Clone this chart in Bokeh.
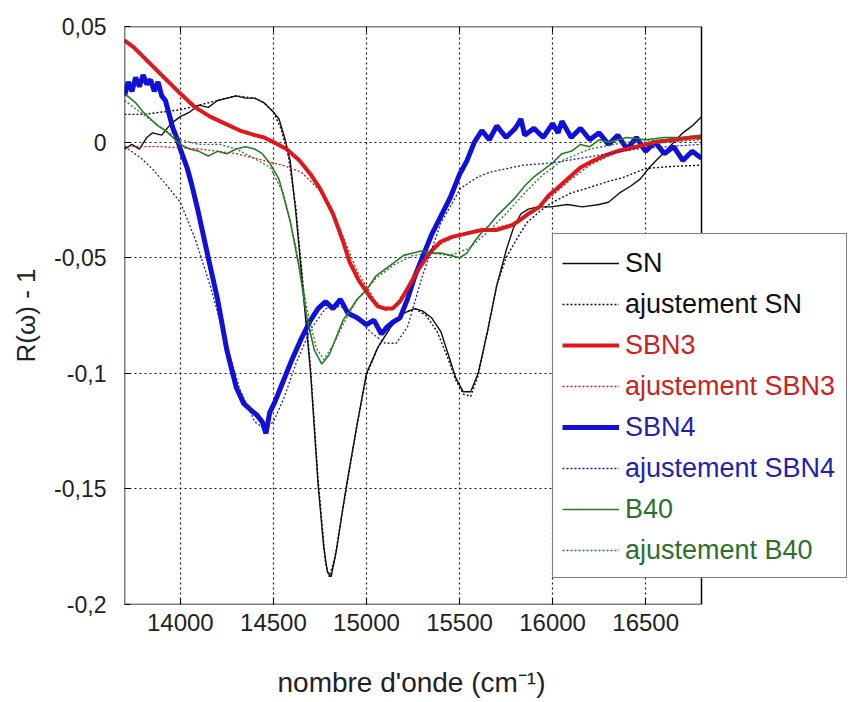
from bokeh.plotting import figure
from bokeh.models import Legend, LegendItem, FixedTicker, LinearAxis, Range1d, BoxAnnotation, Title
from bokeh.embed import file_html
from bokeh.resources import INLINE

# ---------------- data ----------------
x_ticks = [14000, 14500, 15000, 15500, 16000, 16500]
x_tick_labels = ["14000", "14500", "15000", "15500", "16000", "16500"]
y_ticks = [0.05, 0.0, -0.05, -0.1, -0.15, -0.2]
y_tick_labels = ["0,05", "0", "-0,05", "-0,1", "-0,15", "-0,2"]
X_MIN, X_MAX = 13700, 16800
Y_MIN, Y_MAX = -0.2, 0.05

sn_x = [13700, 13740, 13780, 13820, 13850, 13900, 13950, 14000, 14050, 14100, 14150, 14200, 14250, 14300,
        14350, 14400, 14450, 14500, 14530, 14560, 14590, 14620, 14660, 14700, 14740, 14770, 14790, 14810,
        14840, 14870, 14900, 14950, 15000, 15060, 15130, 15200, 15260, 15300, 15350, 15400, 15440, 15480,
        15520, 15560, 15600, 15650, 15700, 15750, 15790, 15830, 15870, 15920, 15990, 16080, 16160, 16250,
        16300, 16360, 16420, 16470, 16520, 16580, 16640, 16700, 16750, 16800]
sn_y = [-0.003, -0.001, -0.003, 0.002, 0.004, 0.003, 0.008, 0.011, 0.013, 0.016, 0.015, 0.018, 0.019, 0.020,
        0.019, 0.019, 0.017, 0.013, 0.010, 0.002, -0.008, -0.030, -0.065, -0.100, -0.148, -0.175, -0.186, -0.188,
        -0.176, -0.160, -0.145, -0.122, -0.100, -0.089, -0.080, -0.074, -0.072, -0.073, -0.076, -0.082, -0.092, -0.102,
        -0.108, -0.108, -0.100, -0.082, -0.062, -0.047, -0.037, -0.031, -0.029, -0.028, -0.028, -0.027, -0.028, -0.027,
        -0.026, -0.022, -0.019, -0.016, -0.011, -0.006, -0.001, 0.004, 0.007, 0.011]

snfit_x = [13700, 13800, 13900, 14000, 14100, 14200, 14300, 14400, 14450, 14500, 14540, 14580, 14620, 14660,
           14700, 14740, 14780, 14800, 14830, 14870, 14900, 14950, 15000, 15060, 15130, 15200, 15260, 15320,
           15380, 15440, 15480, 15520, 15560, 15600, 15650, 15700, 15750, 15800, 15860, 15930, 16000, 16100,
           16200, 16300, 16380, 16500, 16650, 16800]
snfit_y = [0.012, 0.012, 0.013, 0.014, 0.016, 0.018, 0.020, 0.019, 0.017, 0.013, 0.006, -0.006, -0.028, -0.062,
           -0.098, -0.146, -0.182, -0.188, -0.180, -0.160, -0.146, -0.122, -0.101, -0.089, -0.080, -0.074, -0.072, -0.075,
           -0.082, -0.094, -0.103, -0.109, -0.110, -0.101, -0.082, -0.062, -0.050, -0.043, -0.035, -0.030, -0.026, -0.022,
           -0.0196, -0.017, -0.0153, -0.0114, -0.0105, -0.010]

sbn3_x = [13700, 13750, 13800, 13850, 13900, 13950, 14000, 14080, 14160, 14240, 14320, 14400, 14450, 14500,
          14570, 14640, 14700, 14750, 14820, 14870, 14910, 14960, 15020, 15060, 15100, 15140, 15180, 15230,
          15280, 15330, 15360, 15400, 15460, 15540, 15620, 15700, 15780, 15820, 15870, 15930, 15980, 16030,
          16080, 16150, 16220, 16290, 16360, 16450, 16550, 16650, 16750, 16800]
sbn3_y = [0.044, 0.041, 0.037, 0.033, 0.029, 0.025, 0.021, 0.015, 0.011, 0.008, 0.005, 0.003, 0.002, 0.0,
          -0.003, -0.008, -0.014, -0.020, -0.031, -0.042, -0.052, -0.060, -0.067, -0.071, -0.072, -0.072, -0.069, -0.062,
          -0.055, -0.049, -0.046, -0.043, -0.041, -0.0395, -0.038, -0.038, -0.036, -0.034, -0.031, -0.028, -0.023, -0.0196,
          -0.016, -0.011, -0.008, -0.0055, -0.0036, -0.002, 0.0, 0.001, 0.002, 0.002]

sbn3fit_x = [13700, 13900, 14100, 14300, 14450, 14550, 14650, 14750, 14850, 14950, 15050, 15100, 15150, 15220,
             15300, 15400, 15500, 15650, 15800, 15900, 16000, 16100, 16200, 16300, 16450, 16600, 16800]
sbn3fit_y = [-0.002, -0.002, -0.003, -0.005, -0.008, -0.010, -0.013, -0.021, -0.036, -0.056, -0.069, -0.073, -0.071, -0.063,
             -0.052, -0.044, -0.040, -0.038, -0.035, -0.030, -0.023, -0.016, -0.010, -0.006, -0.002, 0.0, 0.001]

sbn4_x = [13700, 13720, 13740, 13760, 13780, 13800, 13820, 13840, 13860, 13880, 13900, 13920, 13940, 13960,
          13980, 14000, 14036, 14060, 14090, 14150, 14200, 14250, 14300, 14340, 14380, 14410, 14440, 14460,
          14480, 14510, 14550, 14600, 14650, 14700, 14740, 14780, 14820, 14860, 14900, 14950, 15000, 15040,
          15080, 15110, 15140, 15180, 15220, 15260, 15300, 15350, 15400, 15450, 15500, 15540, 15580, 15620,
          15660, 15700, 15750, 15800, 15830, 15850, 15900, 15950, 16000, 16030, 16050, 16100, 16150, 16200,
          16250, 16300, 16350, 16400, 16450, 16500, 16550, 16600, 16650, 16700, 16750, 16800]
sbn4_y = [0.020, 0.026, 0.022, 0.028, 0.024, 0.029, 0.025, 0.027, 0.022, 0.026, 0.020, 0.018, 0.012, 0.006,
          0.002, -0.003, -0.011, -0.018, -0.028, -0.050, -0.068, -0.090, -0.106, -0.113, -0.116, -0.118, -0.121, -0.126,
          -0.117, -0.112, -0.104, -0.094, -0.085, -0.077, -0.072, -0.069, -0.072, -0.068, -0.074, -0.076, -0.079, -0.077,
          -0.083, -0.080, -0.078, -0.076, -0.068, -0.058, -0.050, -0.040, -0.032, -0.024, -0.014, -0.008, 0.000, 0.005,
          0.001, 0.007, 0.002, 0.006, 0.010, 0.003, 0.006, 0.002, 0.008, 0.004, 0.009, 0.002, 0.006, 0.001,
          0.004, -0.001, 0.003, -0.003, 0.002, -0.004, 0.000, -0.005, -0.002, -0.008, -0.004, -0.007]

sbn4fit_x = [13700, 13730, 13790, 13854, 13920, 14000, 14080, 14160, 14240, 14320, 14400, 14450, 14500, 14560,
             14620, 14700, 14780, 14860, 14940, 15020, 15100, 15160, 15220, 15300, 15400, 15505, 15600, 15664,
             15842, 16000, 16150, 16300, 16450, 16600, 16800]
sbn4fit_y = [-0.002, -0.0036, -0.007, -0.012, -0.018, -0.026, -0.042, -0.062, -0.085, -0.107, -0.121, -0.124, -0.121, -0.110,
             -0.096, -0.081, -0.072, -0.071, -0.075, -0.082, -0.087, -0.087, -0.080, -0.058, -0.035, -0.020, -0.015, -0.013,
             -0.010, -0.009, -0.007, -0.005, -0.003, -0.002, -0.001]

b40_x = [13700, 13730, 13760, 13800, 13840, 13880, 13920, 13960, 14000, 14050, 14100, 14150, 14200, 14250,
         14300, 14350, 14400, 14440, 14480, 14530, 14590, 14640, 14680, 14720, 14760, 14800, 14840, 14875,
         14950, 15000, 15050, 15100, 15150, 15200, 15250, 15300, 15350, 15400, 15450, 15500, 15540, 15580,
         15620, 15660, 15700, 15750, 15800, 15850, 15900, 15950, 16000, 16050, 16100, 16150, 16200, 16250,
         16300, 16400, 16500, 16600, 16700, 16800]
b40_y = [0.021, 0.019, 0.017, 0.013, 0.010, 0.007, 0.005, 0.002, -0.001, -0.003, -0.004, -0.006, -0.004, -0.005,
         -0.003, -0.002, -0.003, -0.005, -0.009, -0.016, -0.034, -0.055, -0.076, -0.090, -0.096, -0.092, -0.084, -0.077,
         -0.068, -0.064, -0.058, -0.055, -0.052, -0.049, -0.048, -0.047, -0.048, -0.048, -0.049, -0.050, -0.048, -0.043,
         -0.039, -0.036, -0.032, -0.028, -0.024, -0.019, -0.015, -0.012, -0.009, -0.005, -0.004, -0.001, -0.002, 0.001,
         0.000, 0.002, 0.001, 0.002, 0.002, 0.003]

b40fit_x = [13700, 13800, 13900, 14000, 14100, 14214, 14300, 14390, 14483, 14552, 14620, 14680, 14730, 14770,
            14820, 14880, 14950, 15050, 15150, 15250, 15350, 15450, 15550, 15650, 15750, 15850, 15950, 16050,
            16200, 16400, 16600, 16800]
b40fit_y = [0.018, 0.012, 0.006, 0.001, -0.001, -0.001, -0.003, -0.0067, -0.011, -0.022, -0.045, -0.072, -0.089, -0.094,
            -0.088, -0.078, -0.068, -0.059, -0.053, -0.049, -0.048, -0.049, -0.046, -0.039, -0.031, -0.022, -0.014, -0.008,
            -0.003, 0.000, 0.001, 0.002]

x_label = "nombre d'onde (cm⁻¹)"
y_label = "R(ω) - 1"

# ---------------- layout ----------------
W, H = 849, 702
B_LEFT, B_TOP, B_BOTTOM = 124, 26, 98
FRAME_DATA_PX = 577            # pixels covered by X_MIN..X_MAX
frame_w = W - B_LEFT
x_view_end = X_MIN + (X_MAX - X_MIN) * frame_w / FRAME_DATA_PX

FONT = "Liberation Sans"
p = figure(width=W, height=H, x_range=Range1d(X_MIN, x_view_end), y_range=Range1d(Y_MIN, Y_MAX),
           output_backend="svg", toolbar_location=None,
           min_border_left=B_LEFT, min_border_right=0, min_border_top=B_TOP, min_border_bottom=B_BOTTOM)
p.background_fill_color = "white"
p.border_fill_color = "white"
p.outline_line_color = None

p.xaxis.ticker = FixedTicker(ticks=x_ticks)
p.yaxis.ticker = FixedTicker(ticks=y_ticks)
p.xaxis.major_label_overrides = dict(zip(x_ticks, x_tick_labels))
p.yaxis.major_label_overrides = dict(zip(y_ticks, y_tick_labels))

for ax in (p.xaxis[0], p.yaxis[0]):
    ax.major_tick_in = 6
    ax.major_tick_out = 0
    ax.minor_tick_line_color = None
    ax.major_tick_line_color = "black"
    ax.axis_line_color = None
    ax.major_label_text_font = FONT
    ax.major_label_text_color = "#222222"
    ax.axis_label_text_font = FONT
    ax.axis_label_text_font_size = "26px"
    ax.axis_label_text_font_style = "normal"
    ax.axis_label_text_color = "#222222"

p.xaxis.major_label_text_font_size = "24px"
p.yaxis.major_label_text_font_size = "23px"
p.yaxis.axis_label = y_label
p.xaxis.major_label_standoff = 9
p.yaxis.major_label_standoff = 18
p.yaxis.axis_label_standoff = 10

# x axis title, aligned on the data frame (not on the extended canvas)
p.add_layout(Title(text=x_label, align="left", offset=153, standoff=6, padding=(0, 0, 28, 0),
                   text_font=FONT, text_font_size="28px", text_font_style="normal",
                   text_color="#222222"), "below")

top_ax = LinearAxis(ticker=FixedTicker(ticks=x_ticks), major_label_text_font_size="0px",
                    major_tick_in=6, major_tick_out=0, minor_tick_line_color=None,
                    axis_line_color=None, major_label_standoff=0)
p.add_layout(top_ax, "above")

for g in (p.xgrid[0], p.ygrid[0]):
    g.grid_line_color = "black"
    g.grid_line_dash = "2 3"
    g.grid_line_width = 1.2
    g.grid_line_alpha = 0.9
p.xgrid.ticker = FixedTicker(ticks=x_ticks)
p.ygrid.ticker = FixedTicker(ticks=y_ticks)

BLACK = "#111111"
RED = "#e3161c"
BLUE = "#1010d8"
GREEN = "#2a7a2a"
DASH = "2 2"

r_sn = p.line(sn_x, sn_y, line_color=BLACK, line_width=1.4)
r_snfit = p.line(snfit_x, snfit_y, line_color=BLACK, line_width=1.4, line_dash=DASH)
r_sbn4 = p.line(sbn4_x, sbn4_y, line_color=BLUE, line_width=5)
r_b40 = p.line(b40_x, b40_y, line_color=GREEN, line_width=1.6)
r_sbn3 = p.line(sbn3_x, sbn3_y, line_color=RED, line_width=4)
r_sbn4fit = p.line(sbn4fit_x, sbn4fit_y, line_color="#2020b0", line_width=1.3, line_dash=DASH)
r_b40fit = p.line(b40fit_x, b40fit_y, line_color=GREEN, line_width=1.3, line_dash=DASH)
r_sbn3fit = p.line(sbn3fit_x, sbn3fit_y, line_color="#c02020", line_width=1.3, line_dash=DASH)

# blank out everything right of the data frame, then draw the frame box
p.add_layout(BoxAnnotation(left=X_MAX, fill_color="white", fill_alpha=1.0, line_alpha=0.0))
p.add_layout(BoxAnnotation(left=X_MIN, right=X_MAX, bottom=Y_MIN, top=Y_MAX, fill_alpha=0.0,
                           line_color="black", line_width=1.5, line_alpha=1.0))

labels = ["SN", "ajustement SN", "SBN3", "ajustement SBN3", "SBN4", "ajustement SBN4", "B40", "ajustement B40"]
rends = [r_sn, r_snfit, r_sbn3, r_sbn3fit, r_sbn4, r_sbn4fit, r_b40, r_b40fit]
text_colors = ["#111111", "#cc2222", "#2222aa", "#2e6e2e"]

common = dict(label_text_font=FONT, label_text_font_size="27px", glyph_width=57, glyph_height=36,
              label_height=36, label_standoff=6, spacing=5, padding=10, margin=0)

LEG_X = 428
r_blank = p.line(x=[], y=[], line_alpha=0.0)
box_leg = Legend(items=[LegendItem(label=l, renderers=[r_blank]) for l in labels],
                 location=(LEG_X, 26), border_line_color="black", border_line_width=1.2,
                 background_fill_color="white", background_fill_alpha=1.0,
                 label_text_alpha=0.0, **common)
p.add_layout(box_leg, "center")

for k in range(4):
    leg = Legend(items=[LegendItem(label=labels[2 * k], renderers=[rends[2 * k]]),
                        LegendItem(label=labels[2 * k + 1], renderers=[rends[2 * k + 1]])],
                 location=(LEG_X, 272 - 82 * k), border_line_alpha=0.0, background_fill_alpha=0.0,
                 label_text_color=text_colors[k], **common)
    p.add_layout(leg, "center")

open("out.html", "w").write(file_html(p, INLINE))
